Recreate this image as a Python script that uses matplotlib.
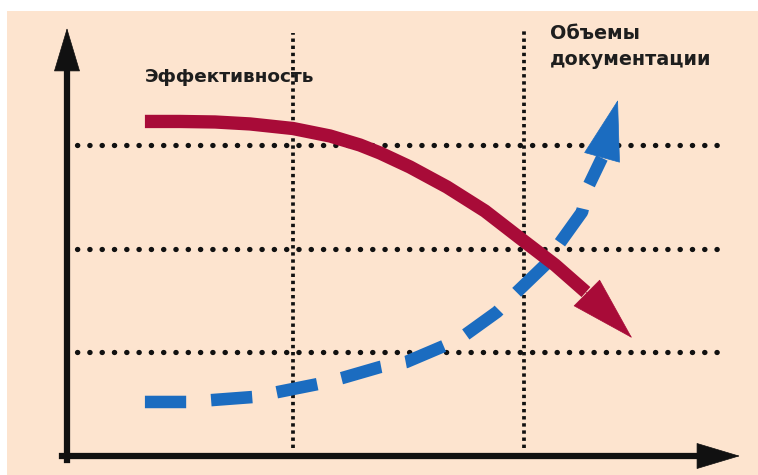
import matplotlib
matplotlib.use("Agg")
import matplotlib.pyplot as plt
from matplotlib.patches import FancyArrowPatch, Rectangle, ArrowStyle

# --- data (x: time, y: level) ---
eff_label = "Эффективность"
doc_label = "Объемы\nдокументации"

# efficiency curve (red, falling)
eff_x = [0.341, 0.495, 0.648, 0.801, 0.989, 1.151, 1.282, 1.370, 1.501,
         1.663, 1.829, 1.982, 2.136, 2.271]
eff_y = [3.226, 3.226, 3.221, 3.202, 3.158, 3.086, 2.999, 2.922, 2.787,
         2.594, 2.363, 2.102, 1.842, 1.581]
eff_tip = (2.473, 1.138)

# documentation volume curve (blue, rising)
doc_x = [0.341, 0.525, 0.639, 0.814, 0.923, 1.098, 1.204, 1.370, 1.484,
         1.659, 1.742, 1.882, 1.969, 2.101, 2.144, 2.254, 2.280, 2.341]
doc_y = [0.521, 0.521, 0.540, 0.569, 0.617, 0.694, 0.752, 0.858, 0.906,
         1.070, 1.167, 1.389, 1.581, 1.861, 2.015, 2.353, 2.594, 2.874]
doc_tip = (2.411, 3.433)

# grid levels
grid_y = [1, 2, 3]
grid_x = [0.99, 2.0]
axis_x_end = 2.945
axis_y_end = 4.127

# --- figure ---
fig = plt.figure(figsize=(7.58, 4.75), dpi=100)
fig.patch.set_facecolor("white")

ax = fig.add_axes([0, 0, 1, 1])
ax.set_xlim(-67 / 228.5, (758 - 67) / 228.5)
ax.set_ylim(-(475 - 456) / 103.7, 456 / 103.7)
ax.axis("off")
ax.patch.set_visible(False)

# beige panel
ax.add_patch(Rectangle((7 / 758, 0), 1, (475 - 11) / 475,
                       transform=fig.transFigure, facecolor="#fde4cf",
                       edgecolor="none", zorder=0, clip_on=False))

# dotted grid
for gy in grid_y:
    ax.plot([0.044, 2.888], [gy, gy], color="#111111", lw=3.8,
            linestyle=(0, (0.05, 2.28)), dash_capstyle="round", zorder=1)
for gx, top in zip(grid_x, [4.079, 4.108]):
    ax.plot([gx, gx], [0.077, top], color="#111111", lw=2.7,
            linestyle=(0, (0.9, 1.0)), dash_capstyle="butt", zorder=1)

# axes with arrows
axis_col = "#111111"
ax.plot([0, 0], [-0.04, axis_y_end - 0.40], color=axis_col, lw=4.5,
        solid_capstyle="projecting", zorder=2)
ax.plot([-0.02, axis_x_end - 0.18], [0, 0], color=axis_col, lw=4.5,
        solid_capstyle="projecting", zorder=2)
for start, end in [((0, axis_y_end - 0.40), (0, axis_y_end)),
                   ((axis_x_end - 0.18, 0), (axis_x_end, 0))]:
    ax.add_patch(FancyArrowPatch(start, end,
                                 arrowstyle=ArrowStyle("-|>", head_length=30, head_width=9),
                                 mutation_scale=1, color=axis_col, lw=0.5,
                                 shrinkA=0, shrinkB=0, zorder=2))

# documentation volume (blue dashed)
blue = "#1b6cc0"
ax.plot(doc_x, doc_y, color=blue, lw=9.0, dashes=(3.3, 2.0),
        dash_capstyle="butt", dash_joinstyle="round", zorder=3)
ax.add_patch(FancyArrowPatch((doc_x[-1], doc_y[-1]), doc_tip,
                             arrowstyle=ArrowStyle("-|>", head_length=42, head_width=13),
                             mutation_scale=1, color=blue, lw=0.5,
                             shrinkA=0, shrinkB=0, zorder=3))

# efficiency (red solid)
red = "#a80b38"
ax.plot(eff_x, eff_y, color=red, lw=9.6, solid_capstyle="butt",
        solid_joinstyle="round", zorder=4)
ax.add_patch(FancyArrowPatch((eff_x[-1], eff_y[-1]), eff_tip,
                             arrowstyle=ArrowStyle("-|>", head_length=45, head_width=13),
                             mutation_scale=1, color=red, lw=0.5,
                             shrinkA=0, shrinkB=0, zorder=4))

# labels
ax.text(0.341, 3.607, eff_label, fontsize=13.3, fontweight="bold",
        color="#1e1e1e", ha="left", va="baseline", family="DejaVu Sans", zorder=5)
ax.text(2.114, 3.770, doc_label, fontsize=13.8, fontweight="bold",
        color="#1e1e1e", ha="left", va="baseline", linespacing=1.5,
        family="DejaVu Sans", zorder=5)

fig.savefig("out.png", dpi=100, facecolor=fig.get_facecolor())
